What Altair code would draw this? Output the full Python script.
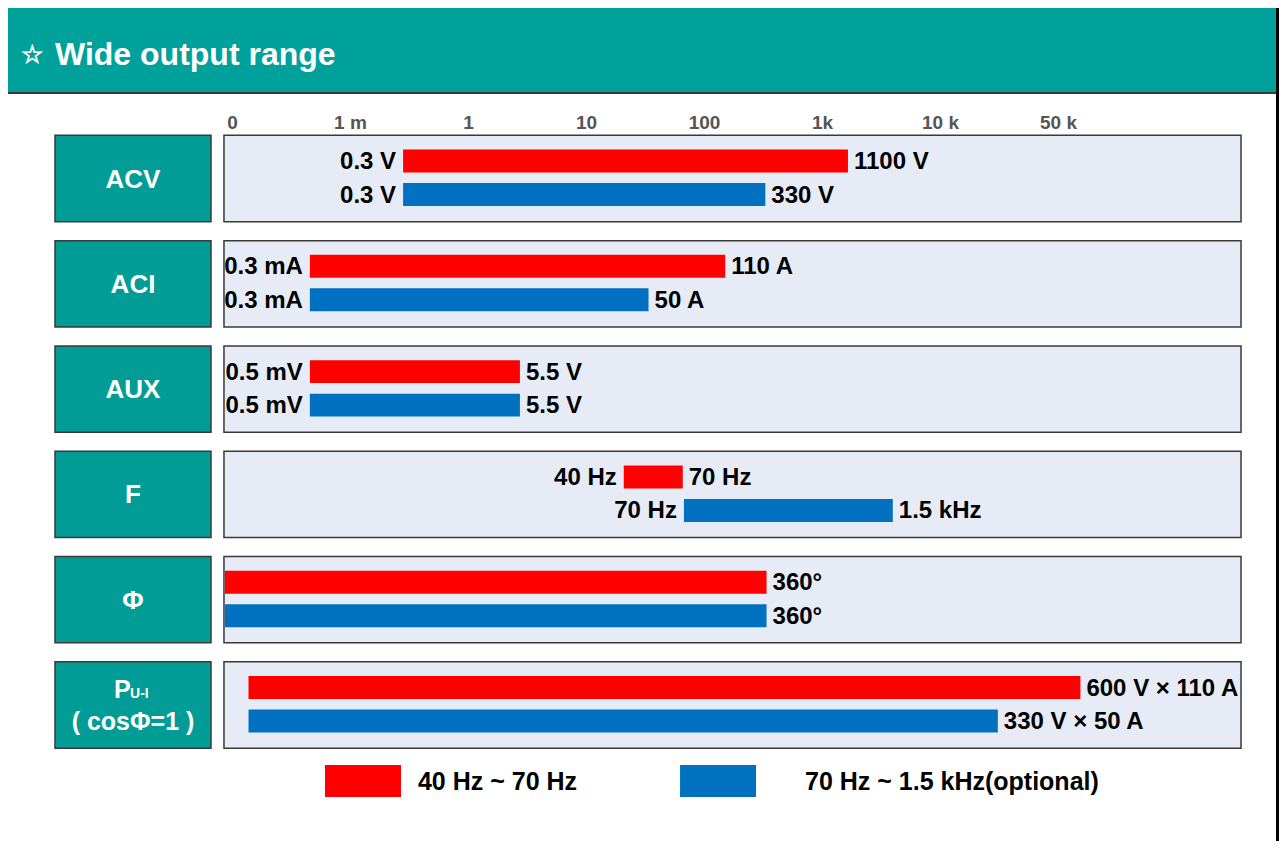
import json
import altair as alt
import pandas as pd

# ---------------- data ----------------
categories = ["ACV", "ACI", "AUX", "F", "Φ", "PU-I"]
series = ["40 Hz ~ 70 Hz", "70 Hz ~ 1.5 kHz(optional)"]
tick_labels = ["0", "1 m", "1", "10", "100", "1k", "10 k", "50 k"]

# positions on the drawn (equally spaced) range axis, tick i == tick_labels[i]
red_start = [1.45, 0.66, 0.66, 3.32, -0.06, 0.14]
red_end = [5.22, 4.18, 2.44, 3.82, 4.53, 7.19]
blue_start = [1.45, 0.66, 0.66, 3.83, -0.06, 0.14]
blue_end = [4.52, 3.53, 2.44, 5.60, 4.53, 6.49]

red_low = ["0.3 V", "0.3 mA", "0.5 mV", "40 Hz", "", ""]
red_high = ["1100 V", "110 A", "5.5 V", "70 Hz", "360°", "600 V × 110 A"]
blue_low = ["0.3 V", "0.3 mA", "0.5 mV", "70 Hz", "", ""]
blue_high = ["330 V", "50 A", "5.5 V", "1.5 kHz", "360°", "330 V × 50 A"]

# ---------------- layout / style ----------------
W, H = 1271, 833
FONT = "Liberation Sans, Arial, sans-serif"
RED, BLUE = "#FF0000", "#0070C0"
TEAL_HEAD, TEAL_BOX = "#00A19A", "#009C95"
PANEL_FILL = "#E6EBF5"
EDGE = "#3A3A3A"

SERIES_OFF = [-0.166, 0.152]   # bar centre offset inside a row (row units)
BAR_HALF = 0.109
BOX_HALF = 0.41

bars_rows = []
for i, c in enumerate(categories):
    for s, (st, en, lo, hi) in enumerate([
        (red_start[i], red_end[i], red_low[i], red_high[i]),
        (blue_start[i], blue_end[i], blue_low[i], blue_high[i]),
    ]):
        yc = i + SERIES_OFF[s]
        bars_rows.append(dict(cat=c, series=series[s], start=st, end=en,
                              low=lo, high=hi, yc=yc,
                              y0=yc - BAR_HALF, y1=yc + BAR_HALF))
bars = pd.DataFrame(bars_rows)

rows = pd.DataFrame(dict(cat=categories, idx=list(range(len(categories)))))
rows["y0"] = rows["idx"] - BOX_HALF
rows["y1"] = rows["idx"] + BOX_HALF
rows["px0"], rows["px1"] = -0.068, 8.551
rows["lx0"], rows["lx1"] = -1.5, -0.178
rows["lxc"] = -0.839

legend_df = pd.DataFrame(dict(series=series, x0=[0.788, 3.797], x1=[1.432, 4.441],
                              tx=[1.576, 4.856]))
legend_df["yc"] = 5.722
legend_df["y0"] = 5.722 - 0.152
legend_df["y1"] = 5.722 + 0.152

x_scale = alt.Scale(domain=[-1.8983, 8.8729], nice=False, zero=False)
y_scale = alt.Scale(domain=[-1.6192, 6.2916], nice=False, zero=False, reverse=True)
x_axis = alt.Axis(orient="top", values=list(range(len(tick_labels))),
                  labelExpr=json.dumps(tick_labels) + "[datum.value]",
                  domain=False, ticks=False, tickSize=0, grid=False,
                  labelPadding=0, offset=-114, labelBaseline="middle",
                  labelFont=FONT, labelFontSize=19, labelFontWeight="bold",
                  labelColor="#555555", labelOverlap=False, labelFlush=False)
color = alt.Color("series:N", scale=alt.Scale(domain=series, range=[RED, BLUE]), legend=None)


def X(field):
    return alt.X(field, type="quantitative", scale=x_scale, axis=x_axis, title=None)


def Y(field):
    return alt.Y(field, type="quantitative", scale=y_scale, axis=None, title=None)


one = pd.DataFrame({"k": [0]})

header = alt.Chart(one).mark_rect(color=TEAL_HEAD).encode(
    x=alt.value(0), x2=alt.value(W), y=alt.value(0), y2=alt.value(85))
header_line = alt.Chart(one).mark_rule(color=EDGE, strokeWidth=2).encode(
    x=alt.value(0), x2=alt.value(W), y=alt.value(85))
right_line = alt.Chart(one).mark_rule(color="black", strokeWidth=3).encode(
    x=alt.value(W - 1.5), y=alt.value(0), y2=alt.value(H))
header_star = alt.Chart(one).mark_text(
    align="left", baseline="alphabetic", font=FONT, fontSize=25, fontWeight="bold",
    color="white").encode(x=alt.value(13), y=alt.value(55), text=alt.value("☆"))
header_text = alt.Chart(one).mark_text(
    align="left", baseline="alphabetic", font=FONT, fontSize=32, fontWeight="bold",
    color="white").encode(x=alt.value(47), y=alt.value(57), text=alt.value("Wide output range"))

panels = alt.Chart(rows).mark_rect(fill=PANEL_FILL, stroke=EDGE, strokeWidth=1.5).encode(
    x=X("px0"), x2="px1", y=Y("y0"), y2="y1")
label_boxes = alt.Chart(rows).mark_rect(fill=TEAL_BOX, stroke=EDGE, strokeWidth=1.5).encode(
    x=X("lx0"), x2="lx1", y=Y("y0"), y2="y1")

simple_rows = rows[rows["cat"] != "PU-I"]
label_text = alt.Chart(simple_rows).mark_text(
    font=FONT, fontSize=26, fontWeight="bold", color="white", baseline="middle", dy=1).encode(
    x=X("lxc"), y=Y("idx"), text="cat:N")

p_row = rows[rows["cat"] == "PU-I"].copy()
p_row["px"] = -1.0
p_row["sx"] = -0.864
p_main = alt.Chart(p_row).mark_text(
    font=FONT, fontSize=25, fontWeight="bold", color="white", align="left",
    baseline="alphabetic", dy=-7).encode(x=X("px"), y=Y("idx"), text=alt.value("P"))
p_sub = alt.Chart(p_row).mark_text(
    font=FONT, fontSize=14, fontWeight="bold", color="white", align="left",
    baseline="alphabetic", dy=-7).encode(x=X("sx"), y=Y("idx"), text=alt.value("U-I"))
p_line2 = alt.Chart(p_row).mark_text(
    font=FONT, fontSize=25, fontWeight="bold", color="white", align="center",
    baseline="alphabetic", dy=25).encode(x=X("lxc"), y=Y("idx"), text=alt.value("( cosΦ=1 )"))

bar_marks = alt.Chart(bars).mark_rect().encode(
    x=X("start"), x2="end", y=Y("y0"), y2="y1", color=color)

low_text = alt.Chart(bars[bars["low"] != ""]).mark_text(
    align="right", baseline="middle", dx=-7, dy=1, font=FONT, fontSize=24,
    fontWeight="bold", color="black").encode(x=X("start"), y=Y("yc"), text="low:N")
high_text = alt.Chart(bars).mark_text(
    align="left", baseline="middle", dx=6, dy=1, font=FONT, fontSize=24,
    fontWeight="bold", color="black").encode(x=X("end"), y=Y("yc"), text="high:N")

legend_rect = alt.Chart(legend_df).mark_rect().encode(
    x=X("x0"), x2="x1", y=Y("y0"), y2="y1", color=color)
legend_text = alt.Chart(legend_df).mark_text(
    align="left", baseline="middle", dy=1, font=FONT, fontSize=25, fontWeight="bold",
    color="black").encode(x=X("tx"), y=Y("yc"), text="series:N")

chart = alt.layer(
    header, header_line, header_star, header_text, panels, label_boxes, label_text,
    p_main, p_sub, p_line2, bar_marks, low_text, high_text,
    legend_rect, legend_text, right_line,
).properties(
    width=W, height=H, padding=0, autosize=alt.AutoSizeParams(type="none"),
    background="white",
).configure_view(stroke=None)

chart.save("out.html", embed_options={"renderer": "svg", "actions": False})
